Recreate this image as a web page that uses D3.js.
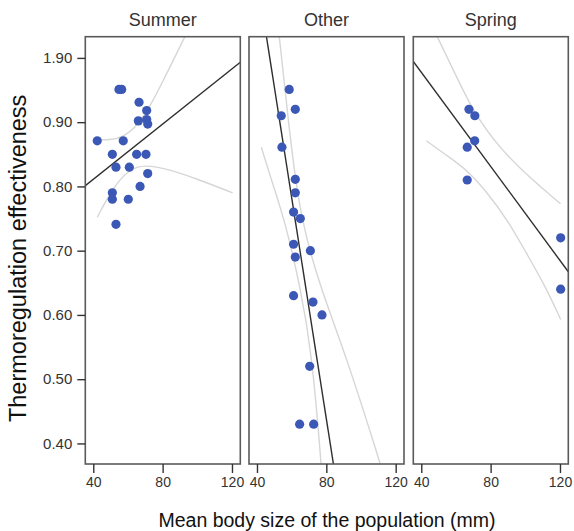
<!DOCTYPE html>
<html>
<head>
<meta charset="utf-8">
<script src="https://cdn.jsdelivr.net/npm/d3@7"></script>
<style>
  html, body { margin: 0; padding: 0; background: #fff; }
  svg { display: block; font-family: "Liberation Sans", Arial, sans-serif; }
</style>
</head>
<body>
<div id="chart"></div>
<script>
// facets
const seasons = ["Summer", "Other", "Spring"];

// points: body size (mm) and effectiveness
const summerSize = [54.8, 56.4, 66.4, 70.8, 66.0, 70.8, 71.4, 42.3, 57.3, 51.0, 65.0, 70.4, 53.1, 60.8, 71.4, 67.0, 51.0, 51.0, 60.2, 53.1];
const summerEff  = [0.951, 0.951, 0.931, 0.918, 0.902, 0.904, 0.897, 0.871, 0.871, 0.850, 0.850, 0.850, 0.830, 0.830, 0.820, 0.800, 0.790, 0.780, 0.780, 0.741];

const otherSize = [58.6, 62.1, 54.0, 54.4, 62.1, 62.1, 61.1, 65.0, 61.1, 70.8, 62.1, 61.1, 72.3, 77.5, 70.4, 64.6, 72.7];
const otherEff  = [0.951, 0.920, 0.910, 0.861, 0.811, 0.790, 0.760, 0.750, 0.710, 0.700, 0.690, 0.630, 0.620, 0.600, 0.520, 0.430, 0.430];

const springSize = [67.5, 70.9, 70.8, 66.5, 66.5, 120.4, 120.4];
const springEff  = [0.920, 0.910, 0.871, 0.861, 0.810, 0.720, 0.640];

// fitted lines (intercept, slope) per facet
const fitIntercept = [0.725, 1.816, 1.124];
const fitSlope = [0.00215, -0.01722, -0.00366];

// 95% band curves, [size, effectiveness]
const summerUpper = [[42.3, 0.873], [49.6, 0.872], [57.3, 0.877], [65.0, 0.893], [72.7, 0.924], [80.4, 0.965], [88.1, 1.007], [95, 1.045]];
const summerLower = [[42.3, 0.752], [51.5, 0.799], [61.2, 0.828], [69.8, 0.833], [80.4, 0.829], [99.7, 0.812], [120.4, 0.790]];
const otherUpper  = [[50, 1.10], [52.9, 1.034], [58.5, 0.89], [65.0, 0.748], [77.5, 0.635], [91.0, 0.540], [111.1, 0.369], [113, 0.35]];
const otherLower  = [[42.5, 0.861], [49.5, 0.80], [55.9, 0.748], [65.0, 0.644], [71.7, 0.540], [77.1, 0.366], [78, 0.33]];
const springUpper = [[44, 1.062], [49.2, 1.033], [59.8, 0.974], [69.4, 0.919], [84.8, 0.860], [104.0, 0.810], [120.3, 0.773]];
const springLower = [[42.9, 0.871], [55.9, 0.846], [66.5, 0.825], [77.1, 0.794], [90.5, 0.745], [100.2, 0.698], [111.7, 0.644], [120.4, 0.593]];

// axis ticks
const yTicks = [1.0, 0.9, 0.8, 0.7, 0.6, 0.5, 0.4];
const yTickLabels = ["1.90", "0.90", "0.80", "0.70", "0.60", "0.50", "0.40"];
const xTicks = [40, 80, 120];

const facets = [
    { name: seasons[0], size: summerSize, eff: summerEff, upper: summerUpper, lower: summerLower },
    { name: seasons[1], size: otherSize, eff: otherEff, upper: otherUpper, lower: otherLower },
    { name: seasons[2], size: springSize, eff: springEff, upper: springUpper, lower: springLower },
];

const width = 574, height = 531;
const panelLeft = [85.3, 249, 413.3];
const panelW = 155;
const panelTop = 36.7, panelBottom = 464;

const svg = d3.select("#chart").append("svg")
    .attr("width", width)
    .attr("height", height);

const y = d3.scaleLinear()
    .domain([0.368, 1.033])
    .range([panelBottom, panelTop]);

const xDomain = [35.4, 124.8];

const dotColor = "#3b58b6";
const fitColor = "#2e2e2e";
const bandColor = "#d6d6d6";
const frameColor = "#5a5a5a";
const textColor = "#333333";

facets.forEach((f, i) => {
    const x = d3.scaleLinear()
        .domain(xDomain)
        .range([panelLeft[i], panelLeft[i] + panelW]);

    const clipId = "clip" + i;
    svg.append("clipPath").attr("id", clipId)
        .append("rect")
        .attr("x", panelLeft[i]).attr("y", panelTop)
        .attr("width", panelW).attr("height", panelBottom - panelTop);

    const g = svg.append("g").attr("clip-path", `url(#${clipId})`);

    const curve = d3.line()
        .x(d => x(d[0]))
        .y(d => y(d[1]))
        .curve(d3.curveBasis);

    // confidence bands
    [f.upper, f.lower].forEach(band => {
        g.append("path")
            .attr("d", curve(band))
            .attr("fill", "none")
            .attr("stroke", bandColor)
            .attr("stroke-width", 1.4);
    });

    // fit line
    const fitPts = xDomain.map(v => [v, fitIntercept[i] + fitSlope[i] * v]);
    g.append("path")
        .attr("d", d3.line().x(d => x(d[0])).y(d => y(d[1]))(fitPts))
        .attr("fill", "none")
        .attr("stroke", fitColor)
        .attr("stroke-width", 1.4);

    // points
    g.selectAll("circle.dot")
        .data(f.size.map((s, k) => ({ s, e: f.eff[k] })))
        .join("circle")
        .attr("class", "dot")
        .attr("cx", d => x(d.s))
        .attr("cy", d => y(d.e))
        .attr("r", 4.6)
        .attr("fill", dotColor);

    // frame
    svg.append("rect")
        .attr("x", panelLeft[i]).attr("y", panelTop)
        .attr("width", panelW).attr("height", panelBottom - panelTop)
        .attr("fill", "none")
        .attr("stroke", frameColor)
        .attr("stroke-width", 1.6);

    // x axis
    const xa = svg.append("g")
        .attr("transform", `translate(0, ${panelBottom})`)
        .call(d3.axisBottom(x).tickValues(xTicks).tickSize(9).tickPadding(4));
    xa.select(".domain").remove();
    xa.selectAll("line").attr("stroke", textColor).attr("stroke-width", 1.4);
    xa.selectAll("text")
        .attr("fill", textColor)
        .style("font-size", "14px");

    // facet title
    svg.append("text")
        .attr("x", panelLeft[i] + panelW / 2)
        .attr("y", 26)
        .attr("text-anchor", "middle")
        .attr("fill", textColor)
        .style("font-size", "18px")
        .text(f.name);
});

// y axis on the first panel
const ya = svg.append("g")
    .attr("transform", `translate(${panelLeft[0]}, 0)`)
    .call(d3.axisLeft(y).tickValues(yTicks).tickFormat((d, k) => yTickLabels[k]).tickSize(8).tickPadding(5));
ya.select(".domain").remove();
ya.selectAll("line").attr("stroke", textColor).attr("stroke-width", 1.4);
ya.selectAll("text")
    .attr("fill", textColor)
    .style("font-size", "15px");

// axis titles
svg.append("text")
    .attr("transform", `translate(26, ${(panelTop + panelBottom) / 2 + 8}) rotate(-90)`)
    .attr("text-anchor", "middle")
    .attr("fill", "#111")
    .style("font-size", "23.5px")
    .text("Thermoregulation effectiveness");

svg.append("text")
    .attr("x", 327)
    .attr("y", 527)
    .attr("text-anchor", "middle")
    .attr("fill", "#111")
    .style("font-size", "19.5px")
    .text("Mean body size of the population (mm)");
</script>
</body>
</html>
